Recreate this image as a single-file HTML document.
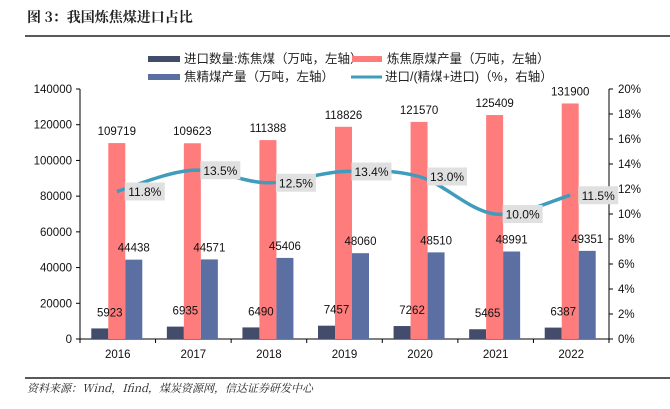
<!DOCTYPE html>
<html><head><meta charset="utf-8"><style>
body{margin:0;background:#fff;}
svg text{font-family:"Liberation Sans","Noto Sans CJK SC",sans-serif;}
</style></head><body>
<svg width="670" height="404" viewBox="0 0 670 404" xmlns="http://www.w3.org/2000/svg">
<text x="27" y="22" font-size="14" font-weight="bold" fill="#222" style="font-family:'Noto Serif CJK SC','Liberation Serif',serif">图 3：我国炼焦煤进口占比</text>
<line x1="25" y1="36" x2="670" y2="36" stroke="#222" stroke-width="1.5"/>
<g font-size="12.5" fill="#222">
<g><rect x="148" y="56" width="32" height="6" fill="#444c6b"/><text x="184" y="63">进口数量:炼焦煤（万吨，左轴）</text></g>
<g><rect x="352" y="56" width="30" height="6" fill="#ff7c7c"/><text x="387" y="63">炼焦原煤产量（万吨，左轴）</text></g>
<g><rect x="148" y="74" width="32" height="6" fill="#5b6fa3"/><text x="184" y="81">焦精煤产量（万吨，左轴）</text></g>
<g><line x1="351" y1="77" x2="382" y2="77" stroke="#3f9cbc" stroke-width="3"/><text x="385" y="81">进口/(精煤+进口)（%，右轴）</text></g>
</g>
<g id="plot"></g>
<line x1="25" y1="378" x2="670" y2="378" stroke="#222" stroke-width="1.5"/>
<text x="27" y="392" font-size="11" font-style="italic" fill="#222" style="font-family:'Noto Serif CJK SC','Liberation Serif',serif">资料来源：Wind，Ifind，煤炭资源网，信达证券研发中心</text>
</svg>
<script>
const years=["2016","2017","2018","2019","2020","2021","2022"];
const importVals=[5923,6935,6490,7457,7262,5465,6387];
const rawVals=[109719,109623,111388,118826,121570,125409,131900];
const cleanVals=[44438,44571,45406,48060,48510,48991,49351];
const ratioVals=[11.8,13.5,12.5,13.4,13.0,10.0,11.5];
const leftTicks=[0,20000,40000,60000,80000,100000,120000,140000];
const rightTicks=[0,2,4,6,8,10,12,14,16,18,20];

const NS="http://www.w3.org/2000/svg";
const g=document.getElementById('plot');
const X0=80,X1=609,Y0=339,Y1=89;
const bw=(X1-X0)/years.length;
const yL=v=>Y0-(v/140000)*(Y0-Y1);
const yR=v=>Y0-(v/20)*(Y0-Y1);
const cx=i=>X0+bw*(i+0.5);
function el(t,a,p){const e=document.createElementNS(NS,t);for(const k in a)e.setAttribute(k,a[k]);(p||g).appendChild(e);return e;}
function txt(x,y,s,anchor,size){const e=el('text',{x:x,y:y,'text-anchor':anchor||'middle','font-size':size||11.5,fill:'#111'});e.textContent=s;return e;}

let a=el('line',{x1:X0,y1:Y1,x2:X0,y2:Y0,stroke:'#000'});


a=el('line',{x1:X1,y1:Y1,x2:X1,y2:Y0,stroke:'#000'});


a=el('line',{x1:X0,y1:Y0,x2:X1,y2:Y0,stroke:'#000'});


leftTicks.forEach(v=>{el('line',{x1:X0-4,y1:yL(v),x2:X0,y2:yL(v),stroke:'#000'});
 const t=txt(X0-8,yL(v)+4,String(v),'end');
 
 });
rightTicks.forEach(v=>{el('line',{x1:X1,y1:yR(v),x2:X1+4,y2:yR(v),stroke:'#000'});
 const t=txt(X1+9,yR(v)+4,v+'%','start');
 
 });
for(let i=0;i<=years.length;i++)el('line',{x1:X0+bw*i,y1:Y0,x2:X0+bw*i,y2:Y0+4,stroke:'#000'});
years.forEach((y,i)=>{const t=txt(cx(i),Y0+19,y,'middle',11.5);
 
 });

const W=17;
const series=[[importVals,'#444c6b',-1.5,'bar-import',10,-12],[rawVals,'#ff7c7c',-0.5,'bar-raw',0,-8],[cleanVals,'#5b6fa3',0.5,'bar-clean',0,-8]];
const labels=[];
series.forEach(([vals,col,off,name,lx,ly])=>{
 vals.forEach((v,i)=>{
  const x=cx(i)+off*W-1;
  const r=el('rect',{x:x,y:yL(v),width:W,height:Y0-yL(v),fill:col});
  
  
  labels.push([x+W/2+lx,yL(v)+ly,String(v)]);
 });
});
labels.forEach(([x,y,s])=>{
 const t=txt(x,y,s,'middle',11.5);
 
 
});

const pts=ratioVals.map((v,i)=>[cx(i)-1,yR(v)]);
let d='M'+pts[0][0]+','+pts[0][1];
for(let i=0;i<pts.length-1;i++){
 const p0=pts[Math.max(0,i-1)],p1=pts[i],p2=pts[i+1],p3=pts[Math.min(pts.length-1,i+2)];
 const c1=[p1[0]+(p2[0]-p0[0])/6,p1[1]+(p2[1]-p0[1])/6];
 const c2=[p2[0]-(p3[0]-p1[0])/6,p2[1]-(p3[1]-p1[1])/6];
 d+=` C${c1[0]},${c1[1]} ${c2[0]},${c2[1]} ${p2[0]},${p2[1]}`;
}
const ln=el('path',{d:d,fill:'none',stroke:'#3f9cbc','stroke-width':3.5});


ratioVals.forEach((v,i)=>{
 const [px,py]=pts[i];
 const b=el('rect',{x:px+8,y:py-9,width:40,height:18,fill:'#e0e0e0'});
 
 
 const t=txt(px+28,py+4.5,v.toFixed(1)+'%','middle',12);
 
 
});
</script>
</body></html>
